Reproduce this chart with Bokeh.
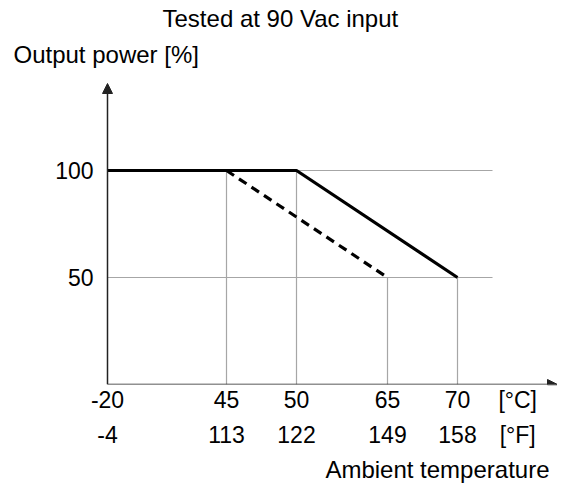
from bokeh.plotting import figure
from bokeh.models import (Range1d, LinearAxis, FixedTicker, Arrow, NormalHead,
                          Title, Label, CustomJSTickFormatter)
from bokeh.core.properties import value
from bokeh.embed import file_html
from bokeh.resources import INLINE

# ---- data ----
temps_c = [-20, 45, 50, 65, 70]
temps_f = [-4, 113, 122, 149, 158]
# schematic (non-linear) axis slot for each temperature
slot = [0.0, 1.7, 2.7, 4.0, 5.0]
unit_c = "[°C]"
unit_f = "[°F]"

solid_t = [-20, 50, 70]
solid_p = [100, 100, 50]
dash_t = [45, 65]
dash_p = [100, 50]
y_ticks = [50, 100]
y_labels = [str(v) for v in y_ticks]

pos = dict(zip(temps_c, slot))

FONT = "Liberation Sans"
FS = "23px"
FS_T = "24px"

W, H = 557, 487
X0_PX, Y0_PX = 107, 384          # page position of the axes origin
XPX, YPX = 70.0, 2.14            # pixels per slot / per percent
BOTTOM = H - Y0_PX
x_start = -X0_PX / XPX
x_end = (W - X0_PX) / XPX
y_end = Y0_PX / YPX
y_arrow = 140.65                 # top of the y-axis arrow (percent units)

p = figure(width=W, height=H, x_range=Range1d(x_start, x_end), y_range=Range1d(0, y_end),
           output_backend="svg", toolbar_location=None,
           min_border_left=0, min_border_right=0,
           min_border_top=0, min_border_bottom=BOTTOM,
           x_axis_location=None, y_axis_location=None)
p.outline_line_color = None
p.grid.visible = False
p.background_fill_color = "white"
p.border_fill_color = "white"

GRAY = "#a6a6a6"
grid_end = slot[-1] + 0.5
# horizontal grid lines
p.segment(x0=[0] * len(y_ticks), x1=[grid_end] * len(y_ticks), y0=y_ticks, y1=y_ticks,
          line_color=GRAY, line_width=1.2)
# vertical drop lines
vt = [45, 50, 65, 70]
vtop = []
for t in vt:
    if t in dash_t:
        vtop.append(dash_p[dash_t.index(t)])
    else:
        vtop.append(solid_p[solid_t.index(t)])
p.segment(x0=[pos[t] for t in vt], x1=[pos[t] for t in vt], y0=[0] * len(vt), y1=vtop,
          line_color=GRAY, line_width=1.2)

# curves
p.line([pos[t] for t in solid_t], solid_p, line_color="black", line_width=3.2)
p.line([pos[t] for t in dash_t], dash_p, line_color="black", line_width=3.2,
       line_dash="9 6")

# axis arrows
AX = "#222222"
p.add_layout(Arrow(x_start=0, y_start=0, x_end=x_end, y_end=0, line_color=AX, line_width=1.5,
                   end=NormalHead(size=10, fill_color=AX, line_color=AX)))
p.add_layout(Arrow(x_start=0, y_start=0, x_end=0, y_end=y_arrow, line_color=AX, line_width=1.5,
                   end=NormalHead(size=10, fill_color=AX, line_color=AX)))

# y tick labels
p.text(x=[0] * len(y_ticks), y=y_ticks, text=y_labels, x_offset=-14,
       text_align="right", text_baseline="middle", text_font=value(FONT),
       text_font_size=FS, text_color="black")

unit_slot = slot[-1] + 0.86
code = ("const i = tks.findIndex(t => Math.abs(t - tick) < 1e-6);"
        "return i >= 0 ? lbls[i] : '';")


def xaxis(labels, standoff):
    ax = LinearAxis(ticker=FixedTicker(ticks=slot + [unit_slot]),
                    formatter=CustomJSTickFormatter(args=dict(tks=slot + [unit_slot],
                                                              lbls=labels), code=code))
    ax.axis_line_color = None
    ax.major_tick_line_color = None
    ax.minor_tick_line_color = None
    ax.major_tick_out = 0
    ax.major_label_standoff = standoff
    ax.major_label_text_font = FONT
    ax.major_label_text_font_size = FS
    ax.major_label_text_color = "black"
    return ax


p.add_layout(xaxis([str(t) for t in temps_c] + [unit_c], 2), "below")
p.add_layout(xaxis([str(t) for t in temps_f] + [unit_f], 6), "below")

p.add_layout(Title(text="Ambient temperature", align="right", offset=8, standoff=6,
                   text_font=FONT, text_font_size=FS_T, text_font_style="normal",
                   text_color="black"), "below")

p.add_layout(Label(x=0.786, y=171.0, text="Tested at 90 Vac input", text_align="left",
                   text_baseline="middle", text_font=FONT, text_font_size=FS_T,
                   text_color="black"))
p.add_layout(Label(x=-1.343, y=154.4, text="Output power [%]", text_align="left",
                   text_baseline="middle", text_font=FONT, text_font_size=FS_T,
                   text_color="black"))

open("out.html", "w").write(file_html(p, INLINE))
